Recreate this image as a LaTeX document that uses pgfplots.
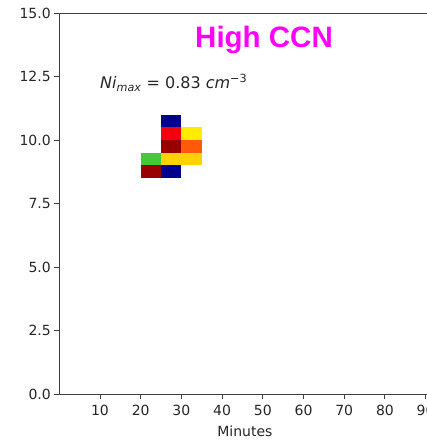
\documentclass[border=0pt]{standalone}
\usepackage{pgfplots}
\pgfplotsset{compat=1.18}
\usepackage{fontspec}
\setmainfont{DejaVu Sans}
\newfontfamily\titlefont{Liberation Sans}
\definecolor{cnavy}{HTML}{00008E}
\definecolor{cred}{HTML}{F5000E}
\definecolor{cdred}{HTML}{980000}
\definecolor{cyel}{HTML}{FFEC00}
\definecolor{corng}{HTML}{FF5A0A}
\definecolor{cgold}{HTML}{FFD200}
\definecolor{cgreen}{HTML}{44C83A}
\definecolor{spine}{HTML}{404040}
\definecolor{cmag}{HTML}{FF00FF}
\begin{document}
\begin{tikzpicture}
\useasboundingbox (0,0) rectangle (427pt,445pt);
\begin{axis}[
  at={(59.3pt,51pt)}, anchor=south west,
  scale only axis, width=371.2pt, height=381pt,
  xmin=0, xmax=91.2, ymin=0, ymax=15,
  xtick={10,20,...,90}, ytick={0,2.5,...,15},
  tick pos=left, tick align=outside, major tick length=5pt,
  axis line style={spine, line width=0.9pt},
  tick style={spine, line width=0.9pt},
  ticklabel style={font=\fontsize{14}{16}\selectfont, text=black!85},
  xticklabel style={yshift=-3pt},
  /pgf/number format/assume math mode=true,
  yticklabel style={/pgf/number format/.cd, fixed, fixed zerofill, precision=1},
  xlabel={Minutes}, xlabel style={font=\fontsize{14}{16}\selectfont, text=black!85, yshift=-3pt},
  no markers,
]
\addplot[draw=none, fill=cnavy] coordinates {(25,10.5) (30,10.5) (30,11) (25,11)} -- cycle;
\addplot[draw=none, fill=cred] coordinates {(25,10) (30,10) (30,10.5) (25,10.5)} -- cycle;
\addplot[draw=none, fill=cyel] coordinates {(30,10) (35,10) (35,10.5) (30,10.5)} -- cycle;
\addplot[draw=none, fill=cdred] coordinates {(25,9.5) (30,9.5) (30,10) (25,10)} -- cycle;
\addplot[draw=none, fill=corng] coordinates {(30,9.5) (35,9.5) (35,10) (30,10)} -- cycle;
\addplot[draw=none, fill=cgreen] coordinates {(20,9) (25,9) (25,9.5) (20,9.5)} -- cycle;
\addplot[draw=none, fill=cgold] coordinates {(25,9) (30,9) (30,9.5) (25,9.5)} -- cycle;
\addplot[draw=none, fill=cgold] coordinates {(30,9) (35,9) (35,9.5) (30,9.5)} -- cycle;
\addplot[draw=none, fill=cdred] coordinates {(20,8.5) (25,8.5) (25,9) (20,9)} -- cycle;
\addplot[draw=none, fill=cnavy] coordinates {(25,8.5) (30,8.5) (30,9) (25,9)} -- cycle;
\node[anchor=base west, inner sep=0pt, font=\fontsize{16}{18}\selectfont, text=black!85]
  at (axis cs:10,12.03) {\itshape Ni\textsubscript{max}\upshape{} = 0.83 \itshape cm\textsuperscript{\upshape −3}};
\node[anchor=base, inner sep=0pt, font=\titlefont\bfseries\fontsize{29.5}{32}\selectfont, text=cmag]
  at (axis cs:50.3,13.66) {High CCN};
\end{axis}
\end{tikzpicture}
\end{document}
